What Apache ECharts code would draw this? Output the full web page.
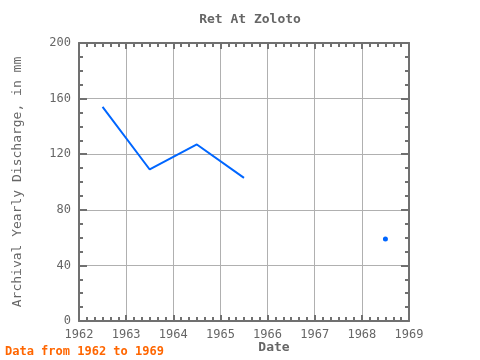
<!DOCTYPE html>
<html><head><meta charset="utf-8">
<script src="https://cdn.jsdelivr.net/npm/echarts@6/dist/echarts.min.js"></script>
<style>html,body{margin:0;padding:0;background:#fff}#c{width:480px;height:360px}</style>
</head><body><div id="c"></div>
<script>
var years = [1962.5, 1963.5, 1964.5, 1965.5, 1966.5, 1967.5, 1968.5];
var discharge = [154, 109, 127, 103, null, null, 59];
var yTicks = [0, 40, 80, 120, 160, 200];
var xTicks = [1962, 1963, 1964, 1965, 1966, 1967, 1968, 1969];

var data = years.map(function (y, i) { return [y, discharge[i]]; });
function isolated(i) {
  var prev = i > 0 ? discharge[i - 1] : null;
  var next = i < discharge.length - 1 ? discharge[i + 1] : null;
  return discharge[i] != null && prev == null && next == null;
}
var font = 'DejaVu Sans Mono';
var axisColor = '#707070';
var textColor = '#666666';
function xAxis(pos, show) {
  return {
    type: 'value', position: pos, min: xTicks[0], max: xTicks[xTicks.length - 1], interval: 1,
    axisLine: { show: true, onZero: false, lineStyle: { color: axisColor, width: 2 } },
    axisTick: { show: true, inside: true, length: 6, lineStyle: { color: axisColor, width: 2 } },
    minorTick: { show: true, splitNumber: 6, length: 4, lineStyle: { color: axisColor, width: 2 } },
    splitLine: { show: show, lineStyle: { color: '#b0b0b0', width: 1 } },
    axisLabel: { show: show, color: textColor, fontFamily: font, fontSize: 12, margin: 8,
      formatter: function (v) { return String(v); } }
  };
}
function yAxis(pos, show) {
  return {
    type: 'value', position: pos, min: yTicks[0], max: yTicks[yTicks.length - 1], interval: 40,
    axisLine: { show: true, onZero: false, lineStyle: { color: axisColor, width: 2 } },
    axisTick: { show: true, inside: true, length: 8, lineStyle: { color: axisColor, width: 2 } },
    minorTick: { show: true, splitNumber: 4, length: 4, lineStyle: { color: axisColor, width: 2 } },
    splitLine: { show: show, lineStyle: { color: '#b0b0b0', width: 1 } },
    axisLabel: { show: show, color: textColor, fontFamily: font, fontSize: 12, margin: 8 },
    name: show ? 'Archival Yearly Discharge, in mm' : '', nameLocation: 'middle', nameGap: 55,
    nameTextStyle: { color: textColor, fontFamily: font, fontSize: 13 }
  };
}
var chart = echarts.init(document.getElementById('c'), null, { renderer: 'canvas' });
chart.setOption({
  animation: false,
  title: {
    text: 'Ret At Zoloto', left: 245, top: 8, textAlign: 'center',
    textStyle: { color: textColor, fontFamily: font, fontSize: 13, fontWeight: 'bold' }
  },
  graphic: [{
    type: 'text', left: 5, top: 346,
    style: { text: 'Data from 1962 to 1969', fill: '#ff6600', font: 'bold 12px "DejaVu Sans Mono"' }
  }, {
    type: 'text', x: 274, y: 348,
    style: { text: 'Date', fill: textColor, font: 'bold 13px "DejaVu Sans Mono"', align: 'center', verticalAlign: 'middle' }
  }],
  grid: { left: 79, right: 71, top: 43, bottom: 39, outerBoundsMode: 'none', containLabel: false },
  xAxis: [xAxis('bottom', true), xAxis('top', false)],
  yAxis: [yAxis('left', true), yAxis('right', false)],
  series: [{
    type: 'line', data: data, connectNulls: false,
    lineStyle: { color: '#0066ff', width: 2 },
    itemStyle: { color: '#0066ff' },
    symbol: 'circle', showSymbol: true,
    symbolSize: function (v, p) { return isolated(p.dataIndex) ? 5 : 0; }
  }]
});
</script></body></html>
